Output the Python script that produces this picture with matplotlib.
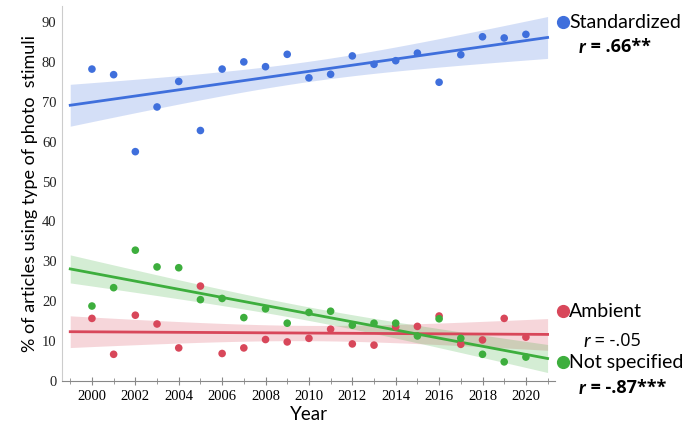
import numpy as np
import matplotlib
matplotlib.use("Agg")
import matplotlib.pyplot as plt

years = np.arange(2000, 2021)
standardized = [78.2, 76.8, 57.5, 68.7, 75.1, 62.8, 78.2, 80.0, 78.8, 81.9, 76.0,
                76.9, 81.5, 79.4, 80.3, 82.2, 74.9, 81.8, 86.3, 86.0, 86.9]
ambient = [15.7, 6.7, 16.5, 14.3, 8.3, 23.8, 6.9, 8.3, 10.4, 9.8, 10.7,
           13.0, 9.3, 9.0, 13.6, 13.7, 16.3, 9.2, 10.3, 15.7, 11.0]
not_specified = [18.8, 23.4, 32.8, 28.6, 28.4, 20.4, 20.7, 15.9, 18.1, 14.5, 17.2,
                 17.5, 14.0, 14.5, 14.5, 11.3, 15.6, 10.7, 6.7, 4.8, 6.0]

series = [
    ("Standardized", standardized, "#3f6fdc"),
    ("Ambient", ambient, "#d8475a"),
    ("Not specified", not_specified, "#3dae3d"),
]


def fit_band(x, y, xs):
    # linear fit with 95% confidence band for the mean
    x = np.asarray(x, float)
    y = np.asarray(y, float)
    n = len(x)
    b, a = np.polyfit(x, y, 1)
    resid = y - (a + b * x)
    s = np.sqrt(np.sum(resid ** 2) / (n - 2))
    sxx = np.sum((x - x.mean()) ** 2)
    se = s * np.sqrt(1.0 / n + (xs - x.mean()) ** 2 / sxx)
    t = 2.093  # t(0.975, 19)
    fit = a + b * xs
    return fit, fit - t * se, fit + t * se


fig = plt.figure(figsize=(6.85, 4.32), dpi=100)
ax = fig.add_axes([0.0905, 0.118, 0.72, 0.868])

xs = np.linspace(1999, 2021, 100)
for name, vals, col in series:
    fit, lo, hi = fit_band(years, vals, xs)
    ax.fill_between(xs, lo, hi, color=col, alpha=0.22, lw=0)
    ax.plot(xs, fit, color=col, lw=2)
    ax.scatter(years, vals, s=30, color=col, zorder=3, edgecolors="none")

ax.set_xlim(1998.62, 2021.35)
ax.set_ylim(0, 94)
ax.set_xticks(np.arange(2000, 2021, 2))
ax.set_xticks(np.arange(1999, 2022, 1), minor=True)
ax.set_yticks(np.arange(0, 91, 10))
for sp in ["top", "right"]:
    ax.spines[sp].set_visible(False)
ax.spines["left"].set_color("#cccccc")
ax.spines["bottom"].set_color("#888888")
ax.tick_params(axis="y", length=0, pad=4, colors="#222222")
ax.tick_params(axis="x", which="major", length=6, color="#888888", direction="inout")
ax.tick_params(axis="x", which="minor", length=4, color="#888888", direction="inout")
for lab in ax.get_xticklabels() + ax.get_yticklabels():
    lab.set_fontfamily("Liberation Serif")
    lab.set_fontsize(10.5)

ax.set_xlabel("Year", fontfamily="Lato", fontsize=13.5, labelpad=2)
ax.set_ylabel("% of articles using type of photo  stimuli", fontfamily="Lato", fontsize=13, labelpad=3)

# legend-like annotations on the right
legend = [
    ("Standardized", "#3f6fdc", 0.949, " = .66**", 0.878, 0.845, "bold"),
    ("Ambient", "#d8475a", 0.280, " = -.05", 0.196, 0.852, "normal"),
    ("Not specified", "#3dae3d", 0.162, " = -.87***", 0.087, 0.845, "bold"),
]
for name, col, yl, rtxt, yr, xr, wt in legend:
    ax.plot([0.822], [yl], "o", ms=8.5, color=col, transform=fig.transFigure, clip_on=False)
    fig.text(0.831, yl, name, fontfamily="Lato", fontsize=14, va="center", ha="left")
    r = fig.text(xr, yr, "r", fontfamily="Lato", fontsize=14, va="baseline", ha="left",
                 fontweight=wt, fontstyle="italic")
    ax.annotate(rtxt, xy=(1, 0), xycoords=r, va="bottom", ha="left",
                fontfamily="Open Sans", fontsize=13, fontweight=wt,
                annotation_clip=False)

fig.savefig("out.png", dpi=100)
